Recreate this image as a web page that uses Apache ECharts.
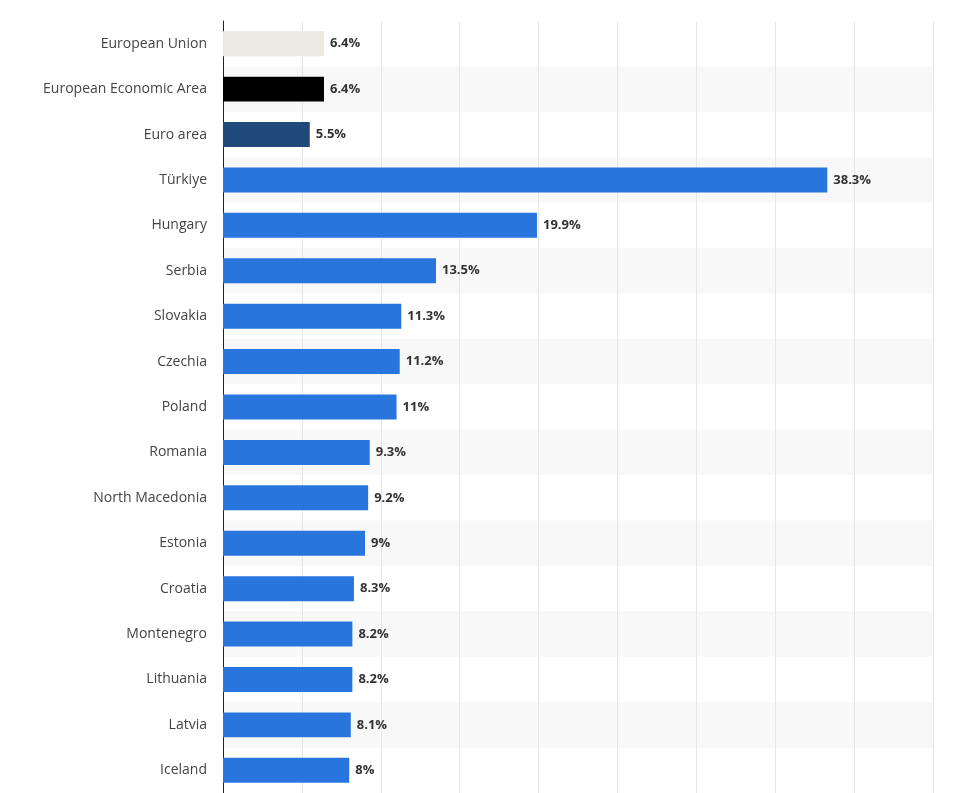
<!DOCTYPE html>
<html><head><meta charset="utf-8">
<script src="https://cdn.jsdelivr.net/npm/echarts@6/dist/echarts.min.js"></script>
<style>html,body{margin:0;background:#fff}#c{width:960px;height:793px}</style></head>
<body><div id="c"></div>
<script>
const categories = ["European Union","European Economic Area","Euro area","Türkiye","Hungary","Serbia","Slovakia","Czechia","Poland","Romania","North Macedonia","Estonia","Croatia","Montenegro","Lithuania","Latvia","Iceland"];
const values = [6.4,6.4,5.5,38.3,19.9,13.5,11.3,11.2,11,9.3,9.2,9,8.3,8.2,8.2,8.1,8];
const barColors = ["#ebe9e2","#000000","#1f4a7a"];
const chart = echarts.init(document.getElementById('c'));
chart.setOption({
  grid:{left:223,right:27,top:21,bottom:-2,containLabel:false},
  xAxis:{type:'value',min:0,max:45,interval:5,axisLabel:{show:false},
    splitLine:{lineStyle:{color:'#e6e6e6'}},axisLine:{show:false}},
  yAxis:{type:'category',data:categories,inverse:true,
    axisLine:{lineStyle:{color:'#222',width:1}},axisTick:{show:false},
    axisLabel:{margin:16,color:'#444',fontSize:14,fontFamily:'Open Sans'},
    splitArea:{show:true,areaStyle:{color:['rgba(0,0,0,0)','#f8f8f8']}}},
  series:[{type:'bar',data:values.map((v,i)=>({value:v,itemStyle:{color:barColors[i]||'#2876dd'}})),
    barWidth:'55%',
    label:{show:true,position:'right',distance:6,formatter:p=>p.value+'%',
      color:'#333',fontWeight:'bold',fontSize:13,fontFamily:'Open Sans'}}]
});
</script></body></html>
